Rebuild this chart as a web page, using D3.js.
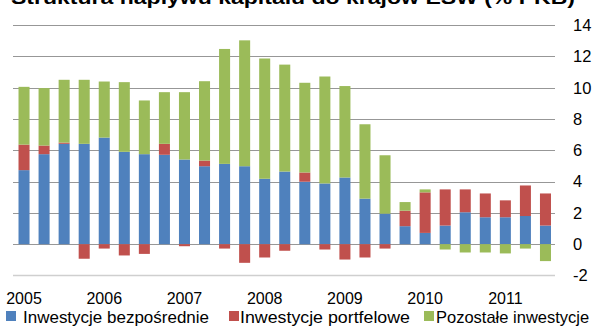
<!DOCTYPE html>
<html>
<head>
<meta charset="utf-8">
<script src="https://cdn.jsdelivr.net/npm/d3@7"></script>
<style>
html,body{margin:0;padding:0;background:#fff;overflow:hidden;}
svg{display:block;}
text{font-family:"Liberation Sans",Arial,sans-serif;fill:#000;}
</style>
</head>
<body>
<svg id="chart" width="595" height="331"></svg>
<script>
const title = "Struktura napływu kapitału do krajów EŚW (% PKB)";
const quarters = ["2005Q1","2005Q2","2005Q3","2005Q4","2006Q1","2006Q2","2006Q3","2006Q4",
  "2007Q1","2007Q2","2007Q3","2007Q4","2008Q1","2008Q2","2008Q3","2008Q4",
  "2009Q1","2009Q2","2009Q3","2009Q4","2010Q1","2010Q2","2010Q3","2010Q4",
  "2011Q1","2011Q2","2011Q3"];
const yearLabels = ["2005","2006","2007","2008","2009","2010","2011"];
const seriesNames = ["Inwestycje bezpośrednie","Inwestycje portfelowe","Pozostałe inwestycje"];
const fdi = [4.73,5.75,6.41,6.41,6.81,5.90,5.75,5.71,5.41,4.98,5.13,4.98,4.18,4.64,3.99,3.88,4.26,2.91,1.95,1.15,0.72,1.19,2.04,1.72,1.72,1.80,1.19];
const portfolio = [1.63,0.55,0.08,-0.93,-0.28,-0.72,-0.62,0.70,-0.13,0.36,-0.28,-1.19,-0.85,-0.42,0.59,-0.34,-0.98,-0.85,-0.28,0.99,2.59,2.31,1.46,1.52,1.08,1.95,2.05];
const other = [3.69,3.67,4.01,4.09,3.58,4.45,3.43,3.30,4.30,5.07,7.34,8.04,7.68,6.83,5.73,6.83,5.84,4.75,3.73,0.55,0.19,-0.34,-0.53,-0.53,-0.59,-0.28,-1.08];
const yTicks = [-2,0,2,4,6,8,10,12,14];
const colors = ["#4F81BD","#C0504D","#9BBB59"];

const svg = d3.select("#chart");
const x = d3.scaleBand().domain(quarters).range([14,555.5]).paddingInner(0.45).paddingOuter(0.225);
const y = d3.scaleLinear().domain([-2,14]).range([275.5,25]);

// gridlines
svg.append("g").selectAll("line").data(yTicks.filter(t=>t>-2)).join("line")
  .attr("x1",13).attr("x2",555).attr("y1",d=>Math.round(y(d))+0.5).attr("y2",d=>Math.round(y(d))+0.5)
  .attr("stroke","#979797").attr("stroke-width",1);
// bottom axis line
svg.append("line").attr("x1",13).attr("x2",555).attr("y1",y(-2)).attr("y2",y(-2))
  .attr("stroke","#cfcfcf").attr("stroke-width",1.6);

const rows = quarters.map((q,i)=>({q, a:fdi[i], b:portfolio[i], c:other[i]}));
const stack = d3.stack().keys(["a","b","c"]).offset(d3.stackOffsetDiverging);
const layers = stack(rows);

svg.append("g").selectAll("g").data(layers).join("g")
  .attr("fill",(d,i)=>colors[i])
  .selectAll("rect").data(d=>d).join("rect")
  .attr("x",d=>x(d.data.q))
  .attr("width",x.bandwidth())
  .attr("y",d=>y(Math.max(d[0],d[1])))
  .attr("height",d=>Math.abs(y(d[0])-y(d[1])));

// y tick labels (right)
svg.append("g").selectAll("text").data(yTicks).join("text")
  .attr("x",573).attr("y",d=>y(d)+5.9)
  .attr("font-size",16.5).text(d=>d);

// year labels
svg.append("g").selectAll("text").data(yearLabels).join("text")
  .attr("x",(d,i)=>x(quarters[i*4])+x.bandwidth()/2).attr("y",304)
  .attr("text-anchor","middle").attr("font-size",16).text(d=>d);

// legend
const legX = [[6,23,186],[229,240,170],[424,436,null]];
const leg = svg.append("g");
seriesNames.forEach((n,i)=>{
  leg.append("rect").attr("x",legX[i][0]).attr("y",311).attr("width",10).attr("height",10).attr("fill",colors[i]);
  const t = leg.append("text").attr("x",legX[i][1]).attr("y",322.5).attr("font-size",16.5).text(n);
  if (legX[i][2]) t.attr("textLength",legX[i][2]).attr("lengthAdjust","spacingAndGlyphs");
});

// title (cut off at top, as in the reference)
svg.append("text").attr("x",11).attr("y",3.5).attr("font-size",19).attr("font-weight","bold")
  .attr("textLength",564).attr("lengthAdjust","spacingAndGlyphs").text(title);
</script>
</body>
</html>
